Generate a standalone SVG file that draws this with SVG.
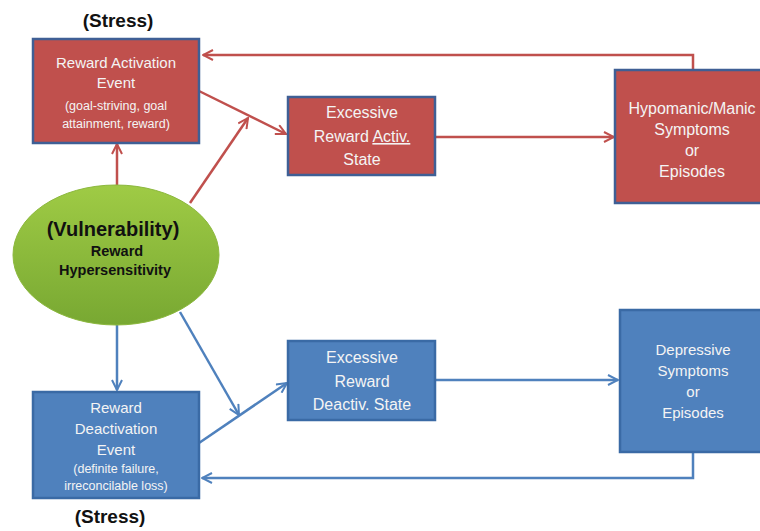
<svg xmlns="http://www.w3.org/2000/svg" width="760" height="531" viewBox="0 0 760 531">
<style>
.lbl{font-family:"Liberation Sans",Arial,sans-serif;fill:#f4f4f4;text-anchor:middle}
.big{font-size:16px}
.mid{font-size:15px}
.sm{font-size:12.5px}
.blk{font-family:"Liberation Sans",Arial,sans-serif;font-weight:bold;fill:#111;text-anchor:middle}
.red{fill:#c0504d;stroke:#3f5f95;stroke-width:2.5}
.blue{fill:#4f81bd;stroke:#3a6aa5;stroke-width:2.5}
.rl{fill:none;stroke:#c0504d;stroke-width:2.5}
.bl{fill:none;stroke:#4f81bd;stroke-width:2.5}
</style>
<defs>
<marker id="ar" viewBox="0 0 12 12" refX="11" refY="6" markerWidth="12" markerHeight="12" markerUnits="userSpaceOnUse" orient="auto">
<path d="M1,1 L11,6 L1,11" fill="none" stroke="#c0504d" stroke-width="2"/>
</marker>
<marker id="ab" viewBox="0 0 12 12" refX="11" refY="6" markerWidth="12" markerHeight="12" markerUnits="userSpaceOnUse" orient="auto">
<path d="M1,1 L11,6 L1,11" fill="none" stroke="#4f81bd" stroke-width="2"/>
</marker>
<linearGradient id="g" x1="0" y1="0" x2="0" y2="1">
<stop offset="0" stop-color="#9fcb45"/>
<stop offset="1" stop-color="#78a832"/>
</linearGradient>
</defs>
<rect width="760" height="531" fill="#fff"/>
<g id="connectors">
<path class="rl" d="M693,70 V55 H203" marker-end="url(#ar)"/>
<path class="rl" d="M117,185 V144" marker-end="url(#ar)"/>
<path class="rl" d="M190,203 L248,118" marker-end="url(#ar)"/>
<path class="rl" d="M199,91 L286,134" marker-end="url(#ar)"/>
<path class="rl" d="M435,137 H614" marker-end="url(#ar)"/>
<path class="bl" d="M117,325 V390" marker-end="url(#ab)"/>
<path class="bl" d="M180,312 L239,415" marker-end="url(#ab)"/>
<path class="bl" d="M199,443 L287,383" marker-end="url(#ab)"/>
<path class="bl" d="M435,380 H618" marker-end="url(#ab)"/>
<path class="bl" d="M693,452 V478 H202" marker-end="url(#ab)"/>
</g>
<g id="stress-top"><text class="blk" x="118" y="27" font-size="19">(Stress)</text></g>
<g id="reward-activation-event">
<rect class="red" x="33" y="39" width="166" height="104"/>
<text class="lbl mid" x="116" y="68">Reward Activation</text>
<text class="lbl mid" x="116" y="88">Event</text>
<text class="lbl sm" x="116" y="110">(goal-striving, goal</text>
<text class="lbl sm" x="116" y="128">attainment, reward)</text>
</g>
<g id="excessive-activ">
<rect class="red" x="288" y="97" width="147" height="78"/>
<text class="lbl big" x="362" y="118">Excessive</text>
<text class="lbl big" x="362" y="142">Reward <tspan text-decoration="underline">Activ.</tspan></text>
<text class="lbl big" x="362" y="165">State</text>
</g>
<g id="hypomanic">
<rect class="red" x="615" y="70" width="150" height="133"/>
<text class="lbl big" x="692" y="114">Hypomanic/Manic</text>
<text class="lbl big" x="692" y="135">Symptoms</text>
<text class="lbl big" x="692" y="156">or</text>
<text class="lbl big" x="692" y="177">Episodes</text>
</g>
<g id="vulnerability">
<ellipse cx="116" cy="255" rx="103" ry="70" fill="url(#g)" stroke="#8cb83e" stroke-width="1"/>
<text class="blk" x="113" y="236" font-size="20">(Vulnerability)</text>
<text class="blk" x="117" y="256" font-size="14.5">Reward</text>
<text class="blk" x="115" y="275" font-size="14.5">Hypersensitivity</text>
</g>
<g id="reward-deactivation-event">
<rect class="blue" x="33" y="392" width="166" height="106"/>
<text class="lbl mid" x="116" y="413">Reward</text>
<text class="lbl mid" x="116" y="434">Deactivation</text>
<text class="lbl mid" x="116" y="455">Event</text>
<text class="lbl sm" x="116" y="473">(definite failure,</text>
<text class="lbl sm" x="116" y="490">irreconcilable loss)</text>
</g>
<g id="stress-bottom"><text class="blk" x="110" y="523" font-size="19">(Stress)</text></g>
<g id="excessive-deactiv">
<rect class="blue" x="288" y="341" width="147" height="79"/>
<text class="lbl big" x="362" y="363">Excessive</text>
<text class="lbl big" x="362" y="387">Reward</text>
<text class="lbl big" x="362" y="410">Deactiv. State</text>
</g>
<g id="depressive">
<rect class="blue" x="620" y="310" width="145" height="142"/>
<text class="lbl mid" x="693" y="355">Depressive</text>
<text class="lbl mid" x="693" y="376">Symptoms</text>
<text class="lbl mid" x="693" y="397">or</text>
<text class="lbl mid" x="693" y="418">Episodes</text>
</g>
</svg>
